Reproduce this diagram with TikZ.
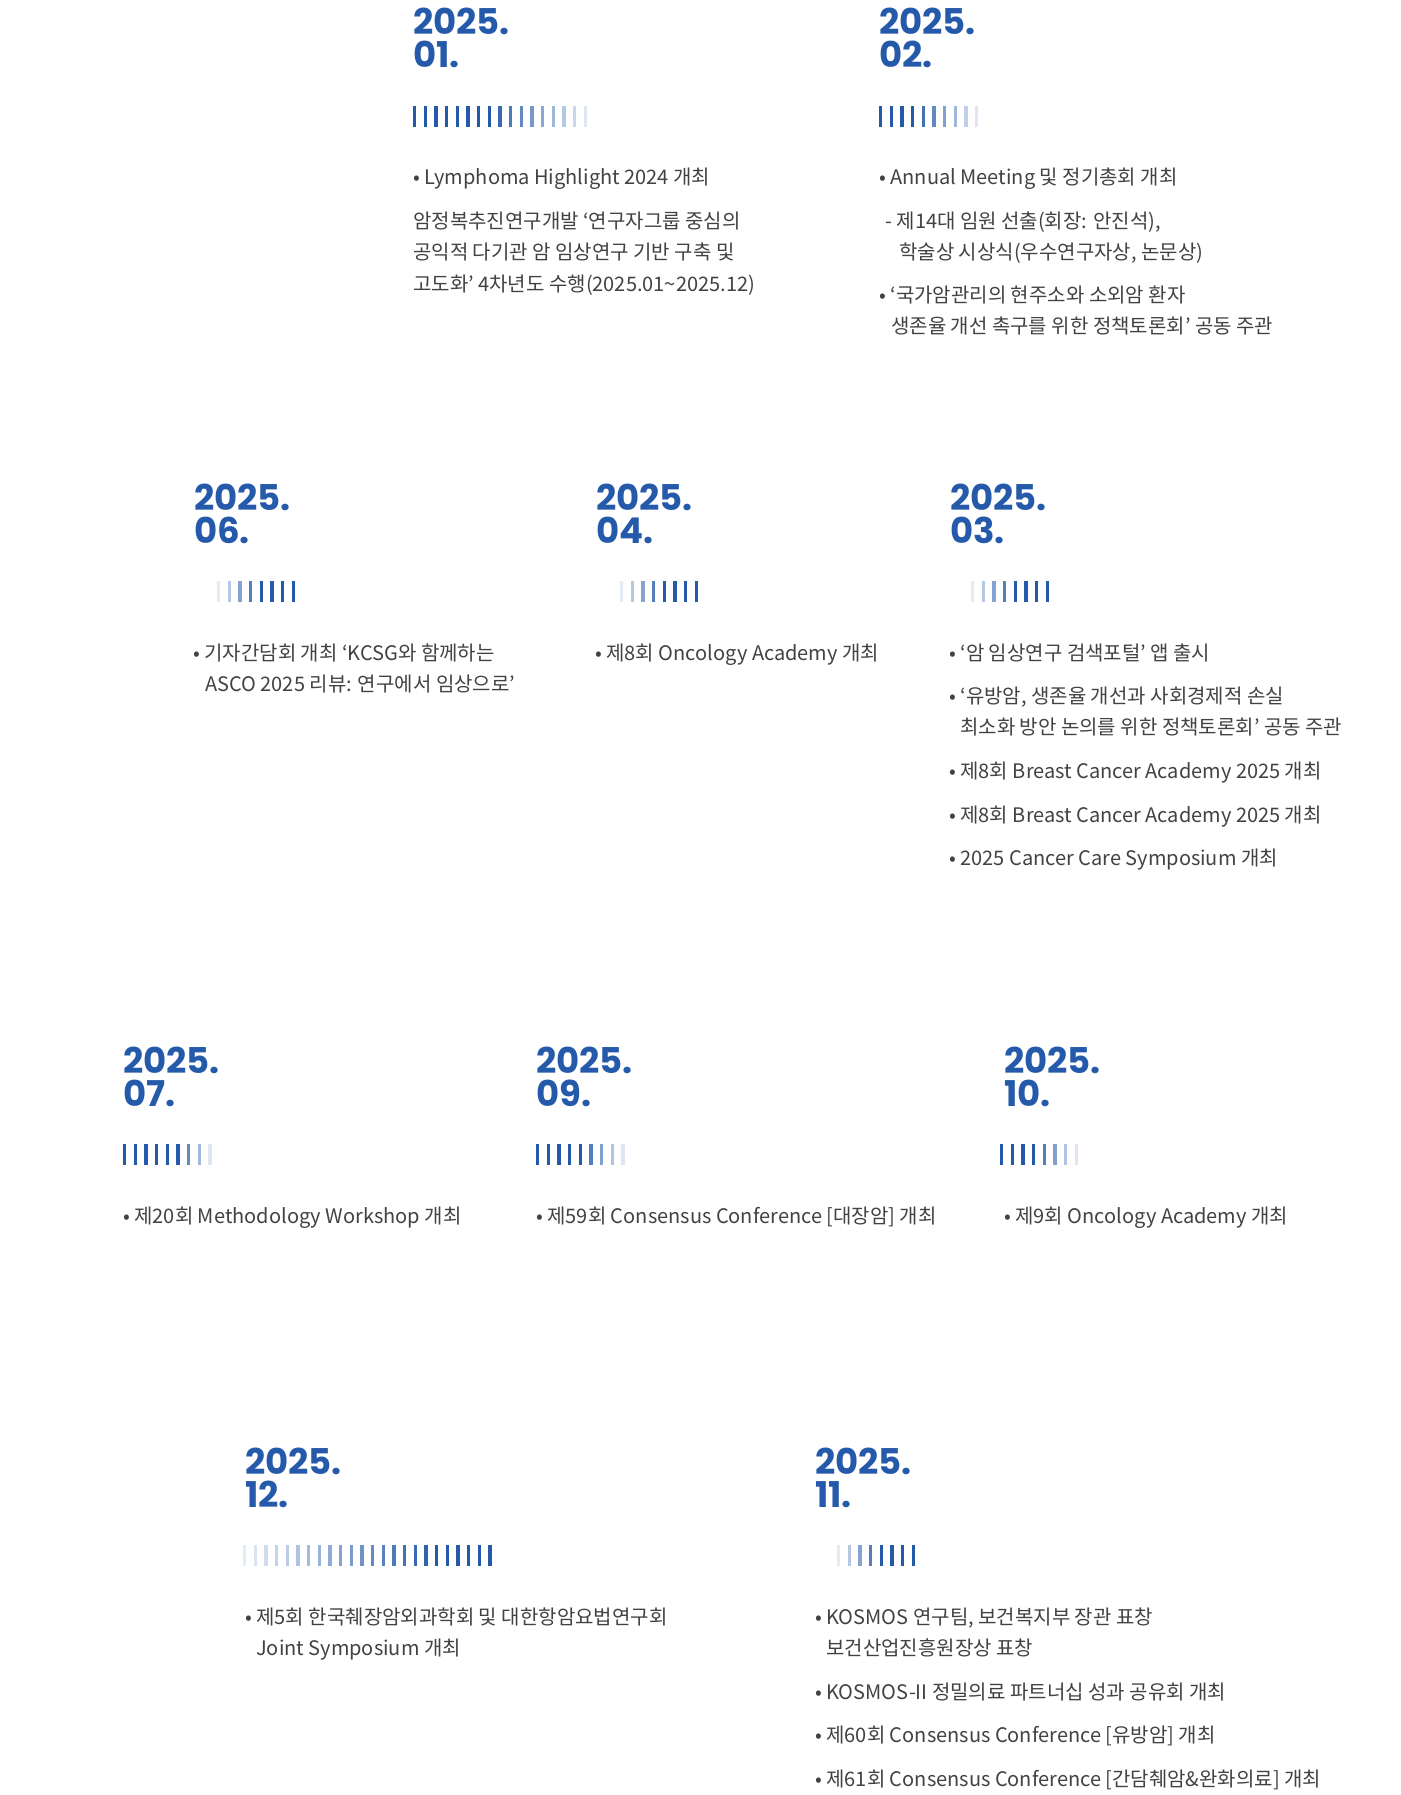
\documentclass[tikz,border=0pt]{standalone}
\usepackage{fontspec}
\setmainfont{Noto Sans CJK KR}
\newfontfamily\yearfont{Poppins}
\usepackage{xcolor}
\definecolor{ColYear}{RGB}{37,90,170}
\definecolor{ColText}{RGB}{66,66,66}
\usepackage{tikz}
% multi-line nodes sit on the baseline of their last line
\tikzstyle{Year}=[anchor=base west,inner sep=0pt,align=left,text=ColYear,
font=\yearfont\bfseries\fontsize{35.5}{33}\selectfont]
\tikzstyle{Item}=[anchor=base west,inner sep=0pt,align=left,text=ColText,
font=\fontsize{20}{31.5}\selectfont,yshift=-2pt]
\tikzstyle{Tick}=[draw=none]
% ticks fading out to the right: x, y, ticks, solid ticks
\newcommand{\TickBar}[4]{%
  \foreach \i in {1,...,#3}{%
    \pgfmathsetmacro{\Shade}{\i<=#4 ? 100 : 100-85*(\i-#4)/(#3-#4)}%
    \fill[Tick,ColYear!\Shade]({#1+(\i-1)*10.67},#2) rectangle ++(3.2,21);
  }}
% ticks fading in from the left: x, y, ticks, solid ticks
\newcommand{\TickBarRev}[4]{%
  \foreach \i in {1,...,#3}{%
    \pgfmathsetmacro{\Shade}{\i>#3-#4 ? 100 : 12+88*(\i-1)/(#3-#4)}%
    \fill[Tick,ColYear!\Shade]({#1+(\i-1)*10.67},#2) rectangle ++(3.2,21);
  }}

\begin{document}
\begin{tikzpicture}[x=1pt,y=-1pt]
    \useasboundingbox[fill=white](0,0) rectangle (1400,1795);
    % row 1
    \node[Year](Y01)at(413,68){2025.\\01.};
    \node[Year](Y02)at(879,68){2025.\\02.};
    \TickBar{413}{106}{17}{8}
    \TickBar{879}{106}{10}{4}
    \node[Item](I01a)at(413,183){• Lymphoma Highlight 2024 개최};
    \node[Item](I01b)at(413,289){암정복추진연구개발 ‘연구자그룹 중심의\\
        공익적 다기관 암 임상연구 기반 구축 및\\
        고도화’ 4차년도 수행(2025.01\textasciitilde 2025.12)};
    \node[Item](I02a)at(879,183){• Annual Meeting 및 정기총회 개최};
    \node[Item](I02b)at(885,257.5){- 제14대 임원 선출(회장: 안진석),\\
        \hspace*{14pt}학술상 시상식(우수연구자상, 논문상)};
    \node[Item](I02c)at(879,331.5){• ‘국가암관리의 현주소와 소외암 환자\\
        \hspace*{12pt}생존율 개선 촉구를 위한 정책토론회’ 공동 주관};
    % row 2
    \node[Year](Y06)at(194,543){2025.\\06.};
    \node[Year](Y04)at(596,543){2025.\\04.};
    \node[Year](Y03)at(950,543){2025.\\03.};
    \TickBarRev{217}{581}{8}{4}
    \TickBarRev{620}{581}{8}{4}
    \TickBarRev{971}{581}{8}{4}
    \node[Item](I06a)at(193,689.5){• 기자간담회 개최 ‘KCSG와 함께하는\\
        \hspace*{12pt}ASCO 2025 리뷰: 연구에서 임상으로’};
    \node[Item](I04a)at(595,658){• 제8회 Oncology Academy 개최};
    \node[Item](I03a)at(949,658){• ‘암 임상연구 검색포털’ 앱 출시};
    \node[Item](I03b)at(949,732.5){• ‘유방암, 생존율 개선과 사회경제적 손실\\
        \hspace*{11pt}최소화 방안 논의를 위한 정책토론회’ 공동 주관};
    \node[Item](I03c)at(949,776){• 제8회 Breast Cancer Academy 2025 개최};
    \node[Item](I03d)at(949,820){• 제8회 Breast Cancer Academy 2025 개최};
    \node[Item](I03e)at(949,863){• 2025 Cancer Care Symposium 개최};
    % row 3
    \node[Year](Y07)at(123,1106){2025.\\07.};
    \node[Year](Y09)at(536,1106){2025.\\09.};
    \node[Year](Y10)at(1004,1106){2025.\\10.};
    \TickBar{123}{1144}{9}{6}
    \TickBar{536}{1144}{9}{5}
    \TickBar{1000}{1144}{8}{4}
    \node[Item](I07a)at(123,1221){• 제20회 Methodology Workshop 개최};
    \node[Item](I09a)at(536,1221){• 제59회 Consensus Conference [대장암] 개최};
    \node[Item](I10a)at(1004,1221){• 제9회 Oncology Academy 개최};
    % row 4
    \node[Year](Y12)at(245,1507){2025.\\12.};
    \node[Year](Y11)at(815,1507){2025.\\11.};
    \TickBarRev{243}{1545}{24}{6}
    \TickBarRev{837}{1545}{8}{4}
    \node[Item](I12a)at(245,1653.5){• 제5회 한국췌장암외과학회 및 대한항암요법연구회\\
        \hspace*{11pt}Joint Symposium 개최};
    \node[Item](I11a)at(815,1653.5){• KOSMOS 연구팀, 보건복지부 장관 표창\\
        \hspace*{11pt}보건산업진흥원장상 표창};
    \node[Item](I11b)at(815,1697){• KOSMOS-II 정밀의료 파트너십 성과 공유회 개최};
    \node[Item](I11c)at(815,1740){• 제60회 Consensus Conference [유방암] 개최};
    \node[Item](I11d)at(815,1784){• 제61회 Consensus Conference [간담췌암\&완화의료] 개최};
\end{tikzpicture}
\end{document}
